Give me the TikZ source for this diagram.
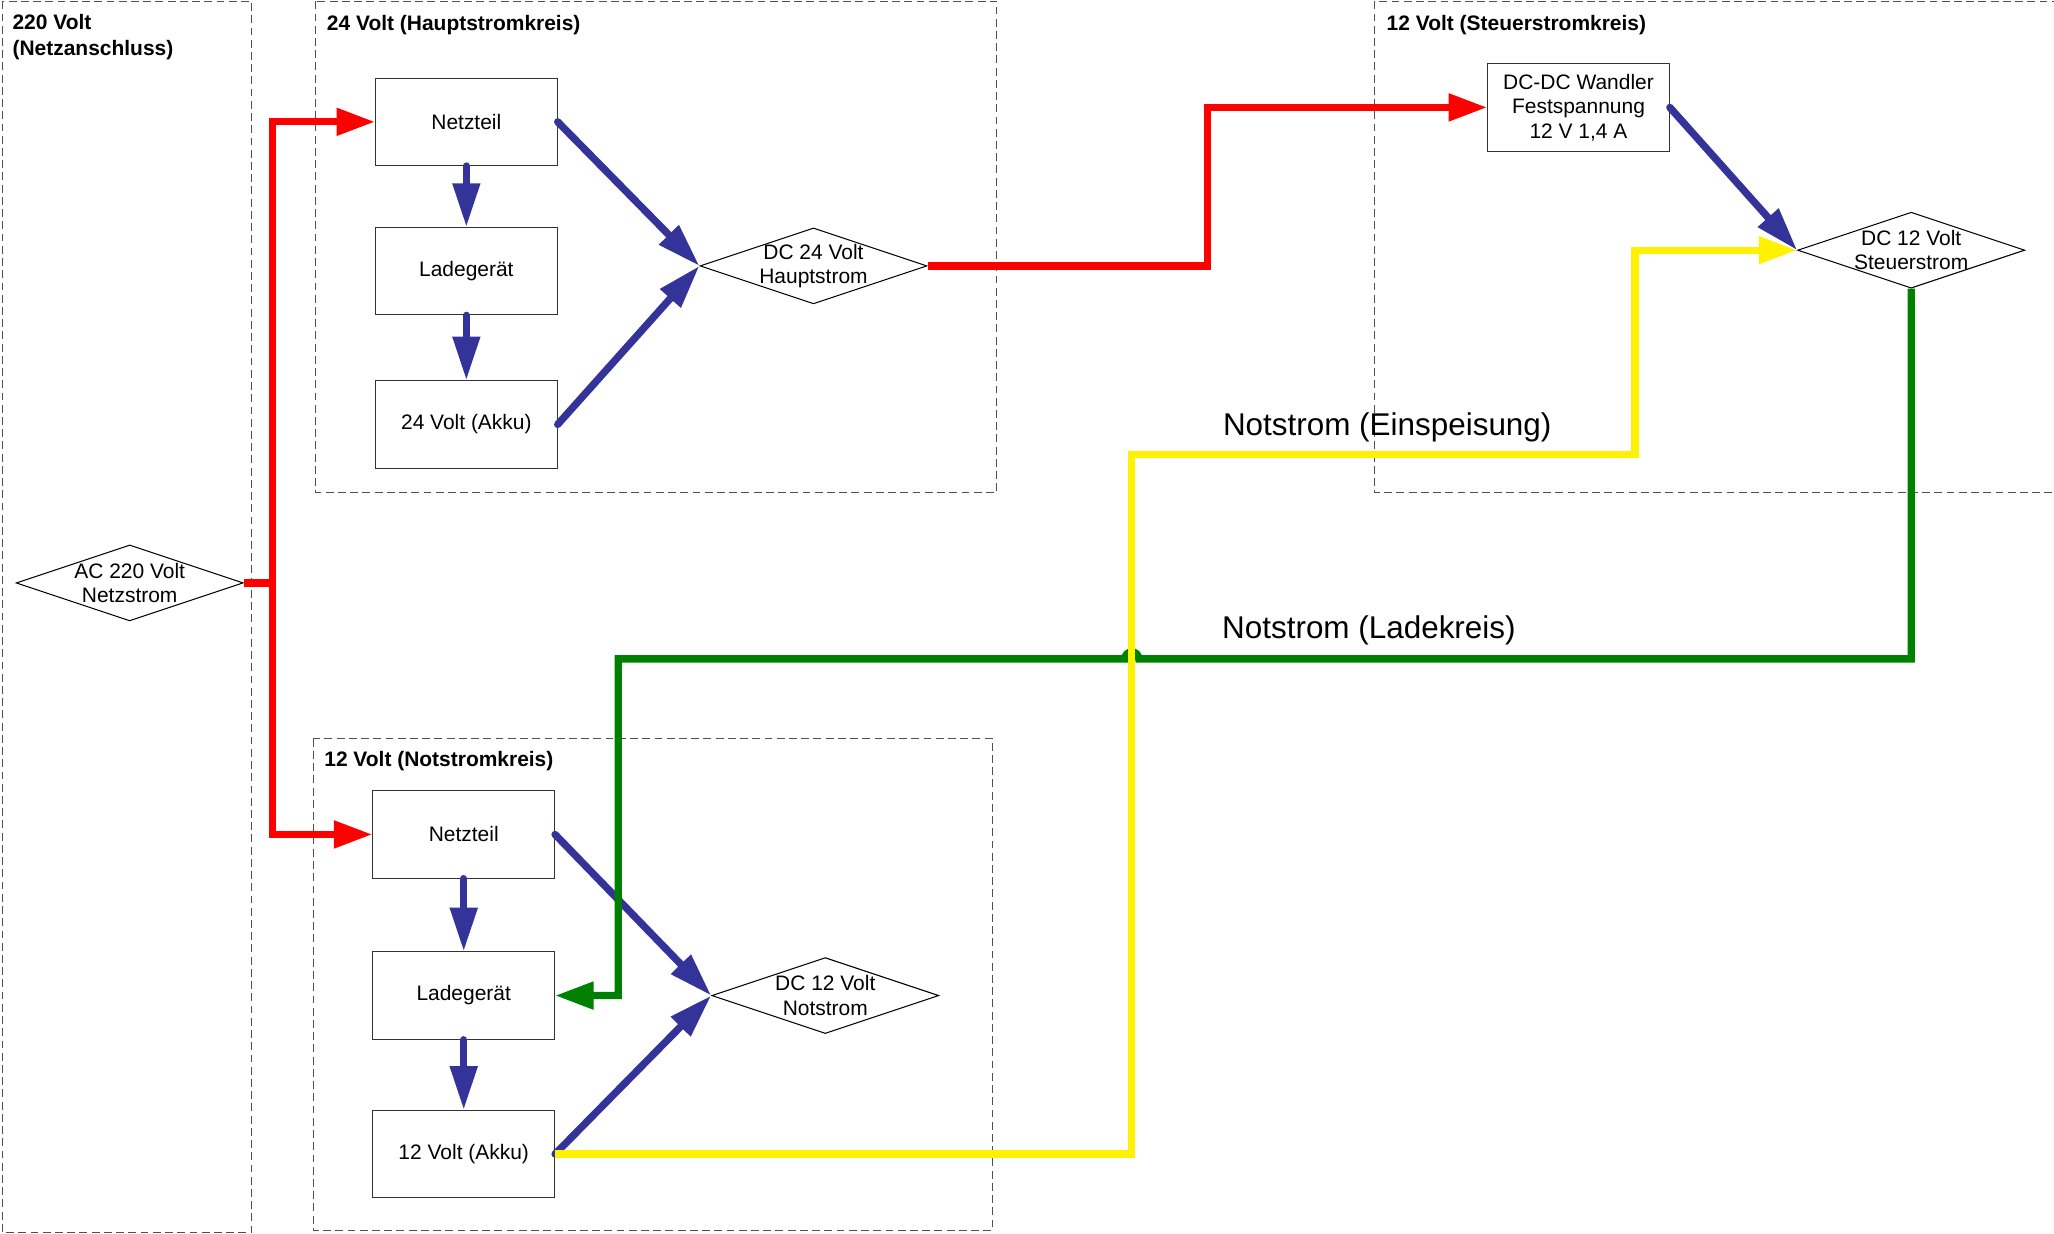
\documentclass[tikz,border=0pt]{standalone}
\usepackage{fontspec}
\setmainfont{Liberation Sans}
\usetikzlibrary{arrows.meta,shapes.geometric}
\definecolor{flowblue}{RGB}{51,51,153}
\definecolor{flowgreen}{RGB}{0,128,0}
\definecolor{framegray}{RGB}{80,80,80}

\begin{document}
\begin{tikzpicture}[x=0.75pt, y=-0.75pt,
  font=\fontsize{12}{14}\selectfont,
  zone/.style={draw=framegray, dash pattern=on 4.5pt off 2.5pt, line width=0.6pt},
  boxtitle/.style={anchor=west, font=\fontsize{12}{15}\selectfont\bfseries, inner sep=1pt, align=left},
  unit/.style={draw=black!80, line width=0.6pt, minimum width=104pt, minimum height=50pt, align=center, inner sep=1pt},
  rail/.style={shape=diamond, draw, line width=0.6pt, minimum width=130pt, minimum height=43.5pt, inner sep=0pt},
  flow/.style={flowblue, line width=4.2pt, line cap=round, -{Triangle[length=25pt,width=15pt]}},
  feed/.style={line width=4.2pt, -{Triangle[length=22pt,width=15pt]}},
  note/.style={font=\fontsize{18}{21}\selectfont}
]
\useasboundingbox (0,0) rectangle (1568,942);

% Frames
\draw[zone] (2,1) rectangle (192,941);
\draw[zone] (241,1) rectangle (761,376);
\draw[zone] (1049,1) rectangle (1575,376);
\draw[zone] (239,564) rectangle (758,939);

% Frame titles
\node[boxtitle, anchor=north west] (tNetz) at (8,9) {220 Volt\\(Netzanschluss)};
\node[boxtitle] (tHaupt) at (248,19) {24 Volt (Hauptstromkreis)};
\node[boxtitle] (tSteuer) at (1057,19) {12 Volt (Steuerstromkreis)};
\node[boxtitle] (tNot) at (246,581) {12 Volt (Notstromkreis)};

% Netzanschluss
\node[rail, label={[align=center]center:AC 220 Volt\\Netzstrom}] (ac) at (99,445) {};

% Hauptstromkreis
\node[unit] (netzH) at (356,93) {Netzteil};
\node[unit] (ladeH) at (356,207) {Ladegerät};
\node[unit] (akkuH) at (356,324) {24 Volt (Akku)};
\node[rail, label={[align=center]center:DC 24 Volt\\Hauptstrom}] (dcH) at (621,203) {};

% Steuerstromkreis
\node[unit] (dcdc) at (1205,82) {DC-DC Wandler\\Festspannung\\12 V 1,4 A};
\node[rail, label={[align=center]center:DC 12 Volt\\Steuerstrom}] (dcS) at (1459,191) {};

% Notstromkreis
\node[unit] (netzN) at (354,637) {Netzteil};
\node[unit] (ladeN) at (354,760) {Ladegerät};
\node[unit] (akkuN) at (354,881) {12 Volt (Akku)};
\node[rail, label={[align=center]center:DC 12 Volt\\Notstrom}] (dcN) at (630,760) {};

% Bends
\coordinate (rsplit) at (208,445);
\coordinate (rbend) at (922,203);
\coordinate (ybend1) at (864,347);
\coordinate (ybend2) at (1248,347);
\coordinate (gbend) at (472,503);
\coordinate (hop) at (864,503);

% Blue flows
\draw[flow] (netzH.south) -- (ladeH.north);
\draw[flow] (ladeH.south) -- (akkuH.north);
\draw[flow] (netzH.east) -- (dcH.west);
\draw[flow] (akkuH.east) -- (dcH.west);
\draw[flow] (dcdc.east) -- (dcS.west);
\draw[flow] (netzN.south) -- (ladeN.north);
\draw[flow] (ladeN.south) -- (akkuN.north);
\draw[flow] (netzN.east) -- (dcN.west);
\draw[flow] (akkuN.east) -- (dcN.west);

% Mains
\draw[feed, red] (ac.east) -- (rsplit) |- (netzH.west);
\draw[feed, red] (rsplit) |- (netzN.west);
\draw[feed, red] (dcH.east) -- (rbend) |- (dcdc.west);

% Notstrom (Ladekreis)
\draw[feed, flowgreen] (dcS.south) |- ([xshift=4pt]hop)
  arc[start angle=0, end angle=180, radius=4pt] -- (gbend) |- (ladeN.east);

% Notstrom (Einspeisung)
\draw[feed, yellow] (akkuN.east) -| (ybend1) -- (ybend2) |- (dcS.west);

% Labels
\node[note] (einsp) at (1059,326) {Notstrom (Einspeisung)};
\node[note] (ladek) at (1045,481) {Notstrom (Ladekreis)};

\end{tikzpicture}
\end{document}
